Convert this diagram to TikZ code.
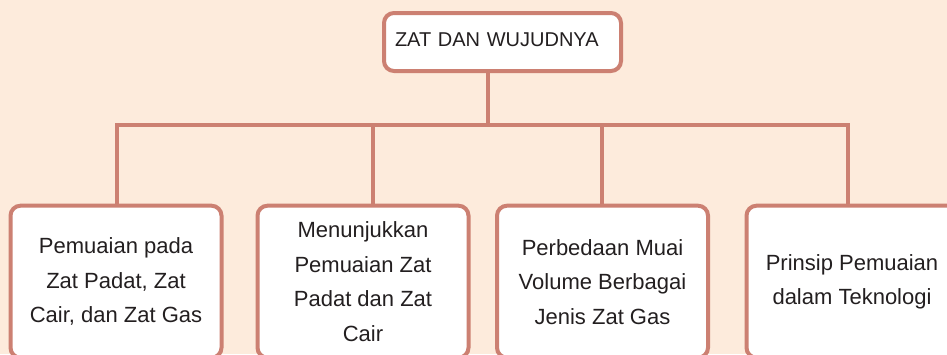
\documentclass[tikz,border=0pt]{standalone}
\usepackage{fontspec}
\setmainfont{Liberation Sans}
\usetikzlibrary{positioning}
\definecolor{bordo}{RGB}{204,128,114}
\definecolor{pesca}{RGB}{253,235,220}
\definecolor{testo}{RGB}{35,31,32}
\tikzset{
    ramo/.style={draw=bordo, line width=4pt}, % garis penghubung
    kotak/.style={draw=bordo, line width=4pt, fill=white, rounded corners=10pt, text=testo}, % kotak dasar
    anak/.style={kotak, minimum width=211pt, minimum height=152pt, align=center, anchor=north,
        font=\fontsize{22}{34.5}\selectfont}, % kotak cabang
}

\begin{document}
\begin{tikzpicture}[x=1pt,y=-1pt]
        \useasboundingbox (0,0) rectangle (947,354);
        \clip (0,0) rectangle (947,354);
        \fill[pesca] (0,0) rectangle (947,354);

        % Kotak utama
        \node[kotak, anchor=north west, inner xsep=11pt, inner ysep=0pt, text width=215pt, align=left,
              text height=33pt, text depth=25pt, font=\fontsize{20}{24}\selectfont]
              (zat) at (382,11) {ZAT DAN WUJUDNYA};

        % Kotak cabang
        \node[anak] (muai) at (116,203.7) {Pemuaian pada\\Zat Padat, Zat\\Cair, dan Zat Gas};
        \node[anak] (tunjuk) at (363,203.7) {Menunjukkan\\Pemuaian Zat\\Padat dan Zat\\Cair};
        \node[anak] (beda) at (602.5,203.7) {Perbedaan Muai\\Volume Berbagai\\Jenis Zat Gas};
        \node[anak] (prinsip) at (852,203.7) {Prinsip Pemuaian\\dalam Teknologi};

        % Garis penghubung
        \coordinate (pusat) at (487.7,125);
        \coordinate (c1) at (117,125);
        \coordinate (c2) at (373,125);
        \coordinate (c3) at (602,125);
        \coordinate (c4) at (848,125);
        \draw[ramo] (zat.south -| pusat) -- (pusat);
        \draw[ramo] (muai.north -| c1) -- (c1) -- (c4) -- (prinsip.north -| c4);
        \draw[ramo] (c2) -- (tunjuk.north -| c2);
        \draw[ramo] (c3) -- (beda.north -| c3);
    \end{tikzpicture}
\end{document}
